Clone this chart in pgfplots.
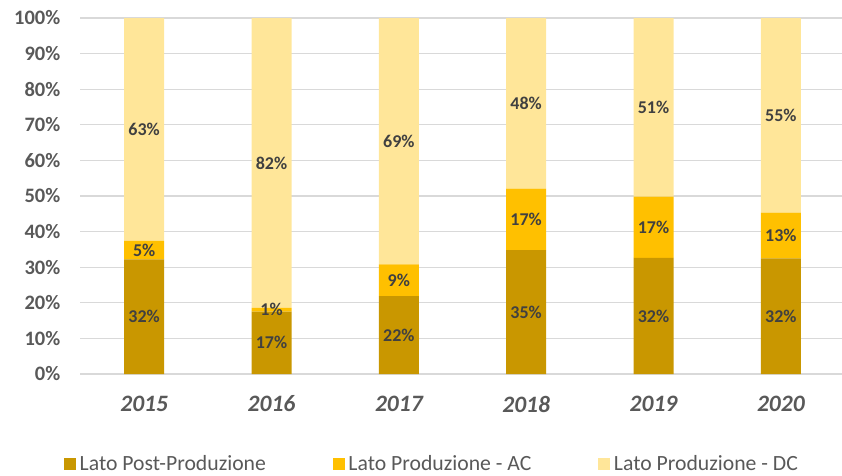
\documentclass[border=0pt]{standalone}
\usepackage{pgfplots}
\pgfplotsset{compat=1.18}
\usepackage{pgfplotstable}
\usepackage{fontspec}
\setmainfont{Carlito}
\definecolor{cgold}{HTML}{C99700}
\definecolor{corange}{HTML}{FFC000}
\definecolor{clight}{HTML}{FFE699}
\definecolor{labgray}{HTML}{595959}
\definecolor{dlab}{HTML}{404040}
\definecolor{gridgray}{HTML}{D9D9D9}
\pgfplotstableread{
x a b c la lb lc
0 32.2 5.2 62.6 32 5 63
1 17.5 1.1 81.4 17 1 82
2 21.9 8.9 69.2 22 9 69
3 34.8 17.3 47.9 35 17 48
4 32.6 17.2 50.2 32 17 51
5 32.5 12.8 54.7 32 13 55
}\data
\begin{document}
\begin{tikzpicture}
\begin{axis}[
  at={(0,0)}, anchor=south west,
  scale only axis, width=764pt, height=356pt,
  xmin=-0.5, xmax=5.5, ymin=0, ymax=100,
  ybar stacked, bar width=40pt,
  xtick={0,1,2,3,4,5},
  xticklabels={2015,2016,2017,2018,2019,2020},
  ytick={0,10,...,100},
  yticklabels={0\%,10\%,20\%,30\%,40\%,50\%,60\%,70\%,80\%,90\%,100\%},
  axis lines*=left,
  y axis line style={draw=none},
  x axis line style={draw=gridgray, line width=1.2pt},
  tick style={draw=none},
  ymajorgrids,
  grid style={draw=gridgray, line width=1.2pt},
  yticklabel style={font=\fontsize{20.5}{24}\selectfont\bfseries, text=labgray, anchor=east, inner sep=0pt, xshift=-20pt},
  xticklabel style={font=\fontsize{23.5}{28}\selectfont\bfseries\itshape, text=labgray, anchor=center, inner sep=0pt, yshift=-30pt},
  point meta=explicit symbolic,
  nodes near coords={\pgfplotspointmeta\%},
  every node near coord/.append style={font=\fontsize{18}{21}\selectfont\bfseries, text=dlab, anchor=center},
  legend columns=3,
  legend cell align=left,
  legend style={draw=none, fill=none, at={(axis description cs:-0.0216,-0.2530)}, anchor=west, inner sep=0pt,
    font=\fontsize{21.7}{25}\selectfont, text=labgray,
    nodes={inner sep=0pt},
    /tikz/every even column/.append style={column sep=67pt},
    /tikz/every odd column/.append style={column sep=3.5pt}},
  every axis plot/.append style={legend image code/.code={\fill[##1] (0pt,-6pt) rectangle (12pt,6pt);}},
]
\addplot[fill=cgold, draw=none] table[x=x, y=a, meta=la] {\data};
\addlegendentry{Lato Post-Produzione}
\addplot[fill=corange, draw=none] table[x=x, y=b, meta=lb] {\data};
\addlegendentry{Lato Produzione - AC}
\addplot[fill=clight, draw=none] table[x=x, y=c, meta=lc] {\data};
\addlegendentry{Lato Produzione - DC}
\end{axis}
\pgfresetboundingbox
\path[use as bounding box] (-80.5pt,-101pt) rectangle (761.5pt,374pt);
\end{tikzpicture}
\end{document}
